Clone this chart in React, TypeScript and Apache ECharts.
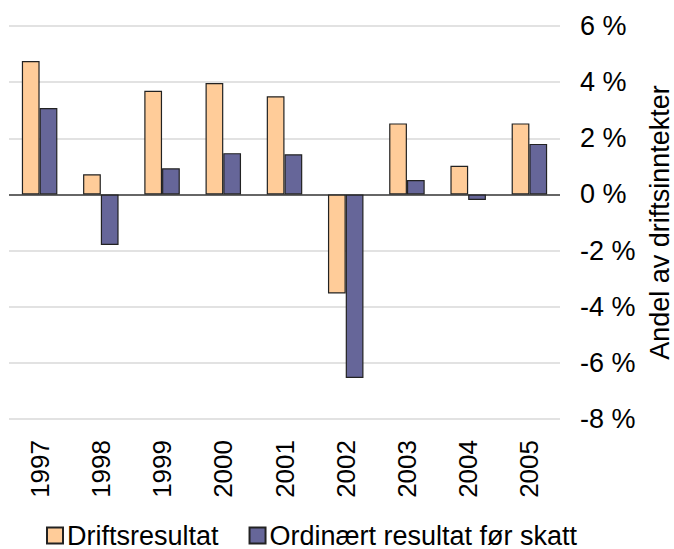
import React, { useEffect, useRef } from "react";
import * as echarts from "echarts";

const categories = ["1997", "1998", "1999", "2000", "2001", "2002", "2003", "2004", "2005"];
const driftsresultat = [4.75, 0.72, 3.69, 3.97, 3.5, -3.53, 2.53, 1.02, 2.53];
const ordinaert = [3.08, -1.8, 0.93, 1.47, 1.43, -6.54, 0.51, -0.2, 1.8];
const seriesNames = ["Driftsresultat", "Ordinært resultat før skatt"];
const yAxisName = "Andel av driftsinntekter";

export default function App() {
  const ref = useRef<HTMLDivElement>(null);
  useEffect(() => {
    if (!ref.current) return;
    const chart = echarts.init(ref.current, null, { renderer: "svg" });
    const font = "Liberation Sans, Arial, sans-serif";
    const grid = "#d9d9d9";
    chart.setOption({
      animation: false,
      textStyle: { fontFamily: font, color: "#000" },
      grid: { left: 9, right: 114, top: 26, bottom: 130, containLabel: false, outerBoundsMode: "none" },
      legend: {
        top: 522,
        left: 46,
        padding: 0,
        itemWidth: 16,
        itemHeight: 16,
        itemGap: 30,
        icon: "rect",
        textStyle: { fontSize: 27, lineHeight: 26, color: "#000", fontFamily: font, padding: [0, 0, 0, -1] },
        data: seriesNames,
      },
      xAxis: {
        type: "category",
        data: categories,
        axisLine: { show: false },
        axisTick: { show: false },
        axisLabel: { rotate: 90, margin: 21, fontSize: 26, color: "#000", fontFamily: font },
      },
      yAxis: {
        type: "value",
        position: "right",
        min: -8,
        max: 6,
        interval: 2,
        axisLine: { show: false },
        axisTick: { show: false },
        axisLabel: { formatter: "{value} %", fontSize: 27, color: "#000", margin: 20, fontFamily: font },
        splitLine: {
          lineStyle: {
            width: 1.5,
            color: [grid, grid, grid, grid, "#333", grid, grid, grid],
          },
        },
        name: yAxisName,
        nameLocation: "middle",
        nameRotate: 90,
        nameGap: 85,
        nameTextStyle: { fontSize: 27, color: "#000", fontFamily: font },
      },
      series: [
        {
          name: seriesNames[0],
          type: "bar",
          data: driftsresultat,
          barWidth: "29%",
          barGap: "0%",
          itemStyle: { color: "#FFCC99", borderColor: "#222", borderWidth: 1.2 },
        },
        {
          name: seriesNames[1],
          type: "bar",
          data: ordinaert,
          barWidth: "29%",
          barGap: "0%",
          itemStyle: { color: "#666699", borderColor: "#222", borderWidth: 1.2 },
        },
      ],
    });
    return () => chart.dispose();
  }, []);
  return <div ref={ref} style={{ width: 674, height: 549, position: "absolute", left: 0, top: 0 }} />;
}
